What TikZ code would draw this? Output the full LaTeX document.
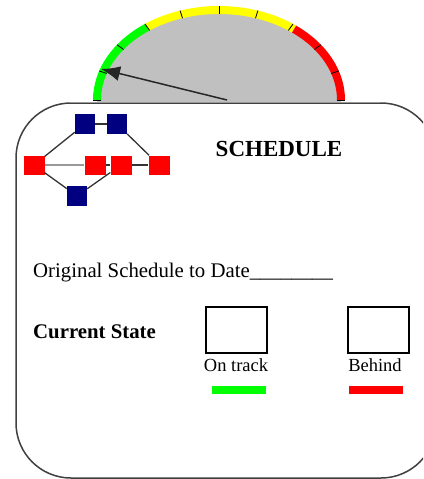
\documentclass[tikz,border=0pt]{standalone}
\usepackage{fontspec}
\setmainfont{Liberation Serif}
\usetikzlibrary{arrows.meta}
\definecolor{gaugegray}{HTML}{C0C0C0}
\definecolor{navyblue}{HTML}{000080}
\definecolor{brightgreen}{HTML}{00FF00}
\definecolor{brightred}{HTML}{FF0000}
\definecolor{brightyellow}{HTML}{FFFF00}
\tikzset{
  bluesq/.style={fill=navyblue, minimum width=20pt, minimum height=20pt, inner sep=0pt},
  redsq/.style={fill=brightred, minimum width=21pt, minimum height=19pt, inner sep=0pt},
  netedge/.style={draw=black!80, line width=1.3pt},
  statebox/.style={draw=black, line width=1.6pt, minimum width=61pt, minimum height=46pt, inner sep=0pt},
  band/.style={line width=8pt},
  tick/.style={draw=black, line width=0.8pt},
  bodytext/.style={font=\fontsize{20.8}{24}\selectfont, inner sep=0pt},
  labeltext/.style={font=\fontsize{18.5}{21}\selectfont, inner sep=0pt},
}
\begin{document}
\begin{tikzpicture}[x=1pt,y=-1pt]
\useasboundingbox (0,0) rectangle (423,479);
\clip (0,0) rectangle (423,479);
% gauge
\fill[gaugegray] (219,100) ellipse [x radius=122, y radius=90];
\draw[band, brightgreen] (219,100) ++(-180:122 and 90) arc [start angle=-180, end angle=-126, x radius=122, y radius=90];
\draw[band, brightyellow] (219,100) ++(-126:122 and 90) arc [start angle=-126, end angle=-52, x radius=122, y radius=90];
\draw[band, brightred] (219,100) ++(-52:122 and 90) arc [start angle=-52, end angle=0, x radius=122, y radius=90];
\foreach \a in {0,18,...,180} {
  \draw[tick] (219,100) ++(-\a:118 and 86) -- ++(-\a:8 and 8);
}
% card
\fill[white] (16,103) rectangle (440,482);
\draw[draw=black!75, line width=1.5pt, rounded corners=55pt] (16,103) rectangle (436,478);
\draw[gaugegray!80!black, line width=1.5pt] (70,102.5) -- (380,102.5);
% needle
\coordinate (needlebase) at (227,100);
\coordinate (needletip) at (101,69);
\draw[black!85, line width=1.5pt, -{Latex[length=19pt,width=15pt]}] (needlebase) -- (needletip);
% network
\node[bluesq] (b1) at (85,124) {};
\node[bluesq] (b2) at (117,124) {};
\node[redsq] (r1) at (34,165) {};
\node[redsq] (r2) at (95,165) {};
\node[redsq] (r3) at (121,165) {};
\node[redsq] (r4) at (159,165) {};
\node[bluesq] (b3) at (77,196) {};
\draw[netedge] (b1) -- (b2);
\draw[netedge] (b1) -- (r1);
\draw[netedge] (b2) -- (r4);
\draw[draw=black!40, line width=2pt] (r1) -- (r2);
\draw[netedge] (r2) -- (r3);
\draw[netedge] (r3) -- (r4);
\draw[netedge] (r1) -- (b3);
\draw[netedge] (b3) -- (r3);
% texts
\node[anchor=base, inner sep=0pt, font=\fontsize{23}{26}\selectfont\bfseries] (title) at (279,156) {SCHEDULE};
\node[bodytext, anchor=base west] (orig) at (33,277) {Original Schedule to Date\_\_\_\_\_\_\_\_};
\node[bodytext, anchor=base west, font=\fontsize{20.8}{24}\selectfont\bfseries] (curr) at (33,338) {Current State};
\node[statebox] (ontrackbox) at (236.5,330) {};
\node[statebox] (behindbox) at (378.5,330) {};
\node[labeltext, anchor=base] (ontrack) at (236,371) {On track};
\node[labeltext, anchor=base] (behind) at (375,371) {Behind};
\fill[brightgreen] (212,386) rectangle (266,394);
\fill[brightred] (349,386) rectangle (403,394);
\end{tikzpicture}
\end{document}
